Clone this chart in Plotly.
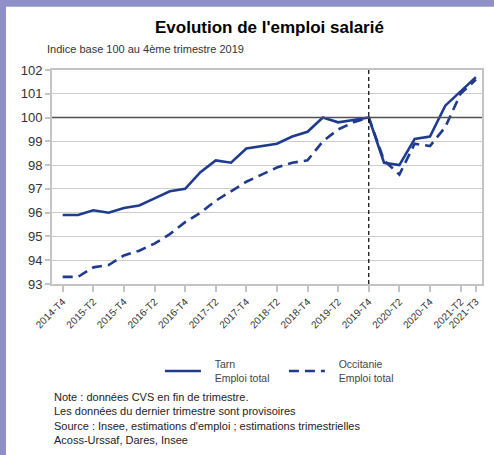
import plotly.graph_objects as go

# Quarters (x categories)
quarters = [
    "2014-T4", "2015-T1", "2015-T2", "2015-T3", "2015-T4", "2016-T1", "2016-T2",
    "2016-T3", "2016-T4", "2017-T1", "2017-T2", "2017-T3", "2017-T4", "2018-T1",
    "2018-T2", "2018-T3", "2018-T4", "2019-T1", "2019-T2", "2019-T3", "2019-T4",
    "2020-T1", "2020-T2", "2020-T3", "2020-T4", "2021-T1", "2021-T2", "2021-T3",
]
# Labelled ticks on the x axis
tick_labels = [
    "2014-T4", "2015-T2", "2015-T4", "2016-T2", "2016-T4", "2017-T2", "2017-T4",
    "2018-T2", "2018-T4", "2019-T2", "2019-T4", "2020-T2", "2020-T4", "2021-T2", "2021-T3",
]

# Index base 100 = 2019-T4
tarn = [95.9, 95.9, 96.1, 96.0, 96.2, 96.3, 96.6, 96.9, 97.0, 97.7, 98.2, 98.1, 98.7, 98.8,
        98.9, 99.2, 99.4, 100.0, 99.8, 99.9, 100.0, 98.1, 98.0, 99.1, 99.2, 100.5, 101.1, 101.7]
occitanie = [93.3, 93.3, 93.7, 93.8, 94.2, 94.4, 94.7, 95.1, 95.6, 96.0, 96.5, 96.9, 97.3, 97.6,
             97.9, 98.1, 98.2, 99.0, 99.5, 99.8, 100.0, 98.2, 97.6, 98.9, 98.8, 99.6, 101.0, 101.6]

base_quarter = "2019-T4"
base_value = 100

BLUE = "#1f3b8e"
FONT = "Liberation Sans, Arial, sans-serif"
PAD = "\u00a0" * 3  # extra space between legend sample and its text

fig = go.Figure()

fig.add_trace(go.Scatter(
    x=quarters, y=tarn, mode="lines", name=f"{PAD}Tarn<br>{PAD}Emploi total",
    line=dict(color=BLUE, width=2.6),
))
fig.add_trace(go.Scatter(
    x=quarters, y=occitanie, mode="lines", name=f"{PAD}Occitanie<br>{PAD}Emploi total",
    line=dict(color=BLUE, width=2.6, dash="10px,6px"),
))

# white card on the lavender background
fig.add_shape(type="rect", xref="paper", yref="paper",
              x0=-0.107, x1=1.2, y0=-1.5, y1=1.296,
              fillcolor="white", line=dict(width=0), layer="below")

# reference lines
fig.add_shape(type="line", xref="paper", yref="y", x0=0, x1=1,
              y0=base_value, y1=base_value,
              line=dict(color="#505050", width=1.5), layer="above")
base_idx = quarters.index(base_quarter)
fig.add_shape(type="line", xref="x", yref="paper", x0=base_idx, x1=base_idx,
              y0=0, y1=1, line=dict(color="black", width=1.2, dash="4px,3px"),
              layer="above")

fig.add_annotation(
    text="Evolution de l'emploi salarié", xref="paper", yref="paper",
    x=0.506, y=1.2, xanchor="center", yanchor="middle", showarrow=False,
    font=dict(family=FONT, size=17, color="black", weight="bold"),
)
fig.add_annotation(
    text="Indice base 100 au 4ème trimestre 2019", xref="paper", yref="paper",
    x=-0.017, y=1.1, xanchor="left", yanchor="middle", showarrow=False,
    font=dict(family=FONT, size=11, color="#333333"),
)
fig.add_annotation(
    text=("Note : données CVS en fin de trimestre.<br>"
          "Les données du dernier trimestre sont provisoires<br>"
          "Source : Insee, estimations d'emploi ; estimations trimestrielles<br>"
          "Acoss-Urssaf, Dares, Insee"),
    xref="paper", yref="paper", x=0.0, y=-0.49, xanchor="left", yanchor="top",
    align="left", showarrow=False,
    font=dict(family=FONT, size=11, color="#222222"),
)

fig.update_layout(
    width=494, height=455,
    margin=dict(l=52, r=12, t=70, b=171, autoexpand=False),
    paper_bgcolor="#9090c8",
    plot_bgcolor="white",
    font=dict(family=FONT, color="#333333"),
    showlegend=True,
    legend=dict(
        orientation="h", x=0.251, y=-0.408, xanchor="left", yanchor="middle",
        font=dict(family=FONT, size=10.5, color="#444444"),
        itemwidth=36, entrywidth=73, bgcolor="rgba(0,0,0,0)",
    ),
    xaxis=dict(
        type="category", range=[-0.7, 27.4],
        tickmode="array", tickvals=tick_labels, ticktext=tick_labels,
        tickangle=-45, tickfont=dict(size=10, color="#333333"),
        ticks="outside", ticklen=6, tickwidth=2, tickcolor="#c4c4c4",
        showgrid=False, showline=True, linecolor="#c4c4c4", linewidth=2, mirror=True,
        zeroline=False,
    ),
    yaxis=dict(
        range=[93, 102], dtick=1,
        tickfont=dict(size=13, color="#333333"),
        ticks="outside", ticklen=5, tickwidth=2, tickcolor="#c4c4c4",
        showgrid=True, gridcolor="#cccccc", gridwidth=1,
        showline=True, linecolor="#c4c4c4", linewidth=2, mirror=True,
        zeroline=False,
    ),
)

# drop the default page margin so the figure sits at the window's corner
fig.write_html("out.html", config={"displayModeBar": False},
               post_script="document.body.style.margin='0';")
